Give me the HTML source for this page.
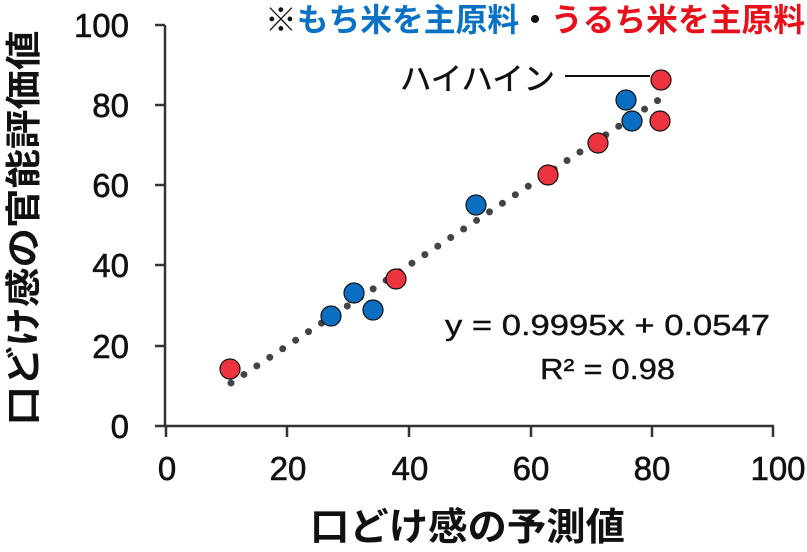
<!DOCTYPE html>
<html><head><meta charset="utf-8"><style>
html,body{margin:0;padding:0;background:#fff;}
svg{display:block;}
text{font-family:"Liberation Sans","Noto Sans CJK JP",sans-serif;}
</style></head><body>
<svg width="807" height="552" viewBox="0 0 807 552">
<g stroke="#333" stroke-width="2.5" fill="none">
<line x1="165" y1="25" x2="165" y2="427"/>
<line x1="164" y1="426" x2="774" y2="426"/>
<line x1="155" y1="25" x2="165" y2="25"/>
<line x1="155" y1="105" x2="165" y2="105"/>
<line x1="155" y1="185" x2="165" y2="185"/>
<line x1="155" y1="265" x2="165" y2="265"/>
<line x1="155" y1="346" x2="165" y2="346"/>
<line x1="155" y1="426" x2="165" y2="426"/>
<line x1="166" y1="426" x2="166" y2="437"/>
<line x1="287" y1="426" x2="287" y2="437"/>
<line x1="409" y1="426" x2="409" y2="437"/>
<line x1="531" y1="426" x2="531" y2="437"/>
<line x1="652" y1="426" x2="652" y2="437"/>
<line x1="773" y1="426" x2="773" y2="437"/>
</g>
<g font-size="33" text-anchor="end" fill="#111" stroke="#111" stroke-width="0.6">
<text x="129" y="37">100</text>
<text x="129" y="117">80</text>
<text x="129" y="197">60</text>
<text x="129" y="277">40</text>
<text x="129" y="358">20</text>
<text x="129" y="438">0</text>
</g>
<g font-size="33" text-anchor="middle" fill="#111" stroke="#111" stroke-width="0.6">
<text x="167" y="480">0</text>
<text x="288" y="480">20</text>
<text x="410" y="480">40</text>
<text x="531" y="480">60</text>
<text x="652" y="480">80</text>
<text x="778" y="480">100</text>
</g>
<text x="310" y="540" font-size="38" font-weight="bold" fill="#111" textLength="315" lengthAdjust="spacingAndGlyphs">口どけ感の予測値</text>
<text transform="translate(36,228) rotate(-90)" font-size="36" font-weight="bold" text-anchor="middle" fill="#111" textLength="395" lengthAdjust="spacingAndGlyphs">口どけ感の官能評価値</text>
<text x="265" y="31" font-size="32" font-weight="bold" textLength="540" lengthAdjust="spacingAndGlyphs"><tspan fill="#111">※</tspan><tspan fill="#0a72c4">もち米を主原料</tspan><tspan fill="#111">・</tspan><tspan fill="#e8101a">うるち米を主原料</tspan></text>
<text x="400" y="90" font-size="31" fill="#111" stroke="#111" stroke-width="0.5" textLength="155" lengthAdjust="spacingAndGlyphs">ハイハイン</text>
<line x1="565" y1="76" x2="650" y2="76" stroke="#111" stroke-width="2"/>
<line x1="231" y1="383" x2="666" y2="95" stroke="#444" stroke-width="7" stroke-linecap="round" stroke-dasharray="0 15.5"/>
<g font-size="29" fill="#111" stroke="#111" stroke-width="0.4">
<text x="445" y="335" textLength="325" lengthAdjust="spacingAndGlyphs">y = 0.9995x + 0.0547</text>
<text x="540" y="379" textLength="135" lengthAdjust="spacingAndGlyphs">R² = 0.98</text>
</g>
<g stroke="#111" stroke-width="1.2">
<circle cx="230" cy="369" r="10" fill="#ee3340"/>
<circle cx="331" cy="316" r="10" fill="#0a6fc2"/>
<circle cx="354" cy="293" r="10" fill="#0a6fc2"/>
<circle cx="373" cy="310" r="10" fill="#0a6fc2"/>
<circle cx="396" cy="279" r="10" fill="#ee3340"/>
<circle cx="476" cy="205" r="10" fill="#0a6fc2"/>
<circle cx="548" cy="175" r="10" fill="#ee3340"/>
<circle cx="598" cy="143" r="10" fill="#ee3340"/>
<circle cx="626" cy="100" r="10" fill="#0a6fc2"/>
<circle cx="632" cy="121" r="10" fill="#0a6fc2"/>
<circle cx="660" cy="121" r="10" fill="#ee3340"/>
<circle cx="661" cy="80" r="10" fill="#ee3340"/>
</g>
</svg>
</body></html>
